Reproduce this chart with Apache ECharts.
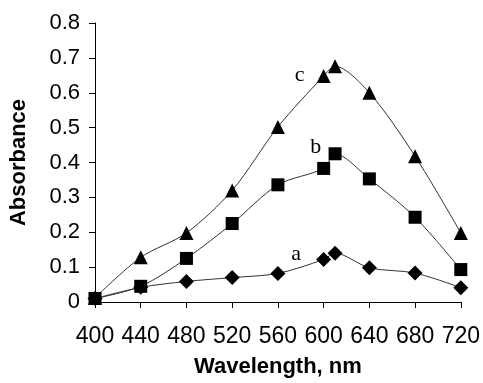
<!DOCTYPE html>
<html>
<head>
<meta charset="utf-8">
<script src="https://cdn.jsdelivr.net/npm/echarts@6/dist/echarts.min.js"></script>
<style>
  html, body { margin: 0; padding: 0; background: #fff; }
  #chart { width: 483px; height: 383px; }
</style>
</head>
<body>
<div id="chart"></div>
<script>
// absorbance spectra, curves a / b / c
const wavelengths = [400, 440, 480, 520, 560, 600, 610, 640, 680, 720]
const seriesA = [0.01, 0.042, 0.059, 0.07, 0.082, 0.122, 0.14, 0.098, 0.083, 0.041]
const seriesB = [0.01, 0.045, 0.125, 0.225, 0.336, 0.383, 0.425, 0.353, 0.243, 0.093]
const seriesC = [0.012, 0.128, 0.198, 0.32, 0.502, 0.648, 0.676, 0.6, 0.418, 0.198]
const xTicks = [400, 440, 480, 520, 560, 600, 640, 680, 720]
const yTicks = [0, 0.1, 0.2, 0.3, 0.4, 0.5, 0.6, 0.7, 0.8]
// curve tags, placed in data space
const tagNames = ['a', 'b', 'c']
const tagX = [576, 593, 579]
const tagY = [0.136, 0.443, 0.65]

const axisFont = 'Arial, "Liberation Sans", sans-serif'
const pairs = ys => wavelengths.map((w, i) => [w, ys[i]])

function curve(name, ys, symbol, size, tagIdx) {
  return {
    name,
    type: 'line',
    data: pairs(ys),
    smooth: 0.3,
    symbol,
    symbolSize: size,
    itemStyle: { color: '#000' },
    lineStyle: { color: '#333', width: 1 },
    z: 3,
    markPoint: {
      symbol: 'circle',
      symbolSize: 1,
      itemStyle: { color: 'transparent' },
      label: {
        show: true,
        position: 'inside',
        formatter: tagNames[tagIdx],
        color: '#000',
        fontFamily: '"Times New Roman", "Liberation Serif", serif',
        fontSize: 22,
      },
      data: [{ coord: [tagX[tagIdx], tagY[tagIdx]] }],
    },
  }
}

const chart = echarts.init(document.getElementById('chart'), null, { renderer: 'canvas' })
chart.setOption({
  backgroundColor: '#fff',
  animation: false,
  grid: { left: 95, right: 20, top: 23, bottom: 79, containLabel: false },
  xAxis: {
    type: 'value',
    min: xTicks[0],
    max: xTicks[xTicks.length - 1],
    interval: 40,
    name: 'Wavelength, nm',
    nameLocation: 'middle',
    nameGap: 54,
    nameTextStyle: { fontFamily: axisFont, fontWeight: 'bold', fontSize: 22, color: '#000' },
    axisLine: { lineStyle: { color: '#000', width: 1 } },
    axisTick: { show: true, length: 6, lineStyle: { color: '#000' } },
    axisLabel: { color: '#000', fontFamily: axisFont, fontSize: 23, margin: 23 },
    splitLine: { show: false },
  },
  yAxis: {
    type: 'value',
    min: yTicks[0],
    max: yTicks[yTicks.length - 1],
    interval: 0.1,
    name: 'Absorbance',
    nameLocation: 'middle',
    nameGap: 65,
    nameTextStyle: { fontFamily: axisFont, fontWeight: 'bold', fontSize: 22, color: '#000' },
    axisLine: { show: true, lineStyle: { color: '#000', width: 1 } },
    axisTick: { show: true, length: 6, lineStyle: { color: '#000' } },
    axisLabel: {
      color: '#000', fontFamily: axisFont, fontSize: 22, margin: 15,
      formatter: v => (v === 0 ? '0' : v.toFixed(1)),
    },
    splitLine: { show: false },
  },
  series: [
    curve('a', seriesA, 'diamond', 15, 0),
    curve('b', seriesB, 'rect', 13, 1),
    curve('c', seriesC, 'triangle', 14, 2),
  ],
})
</script>
</body>
</html>
